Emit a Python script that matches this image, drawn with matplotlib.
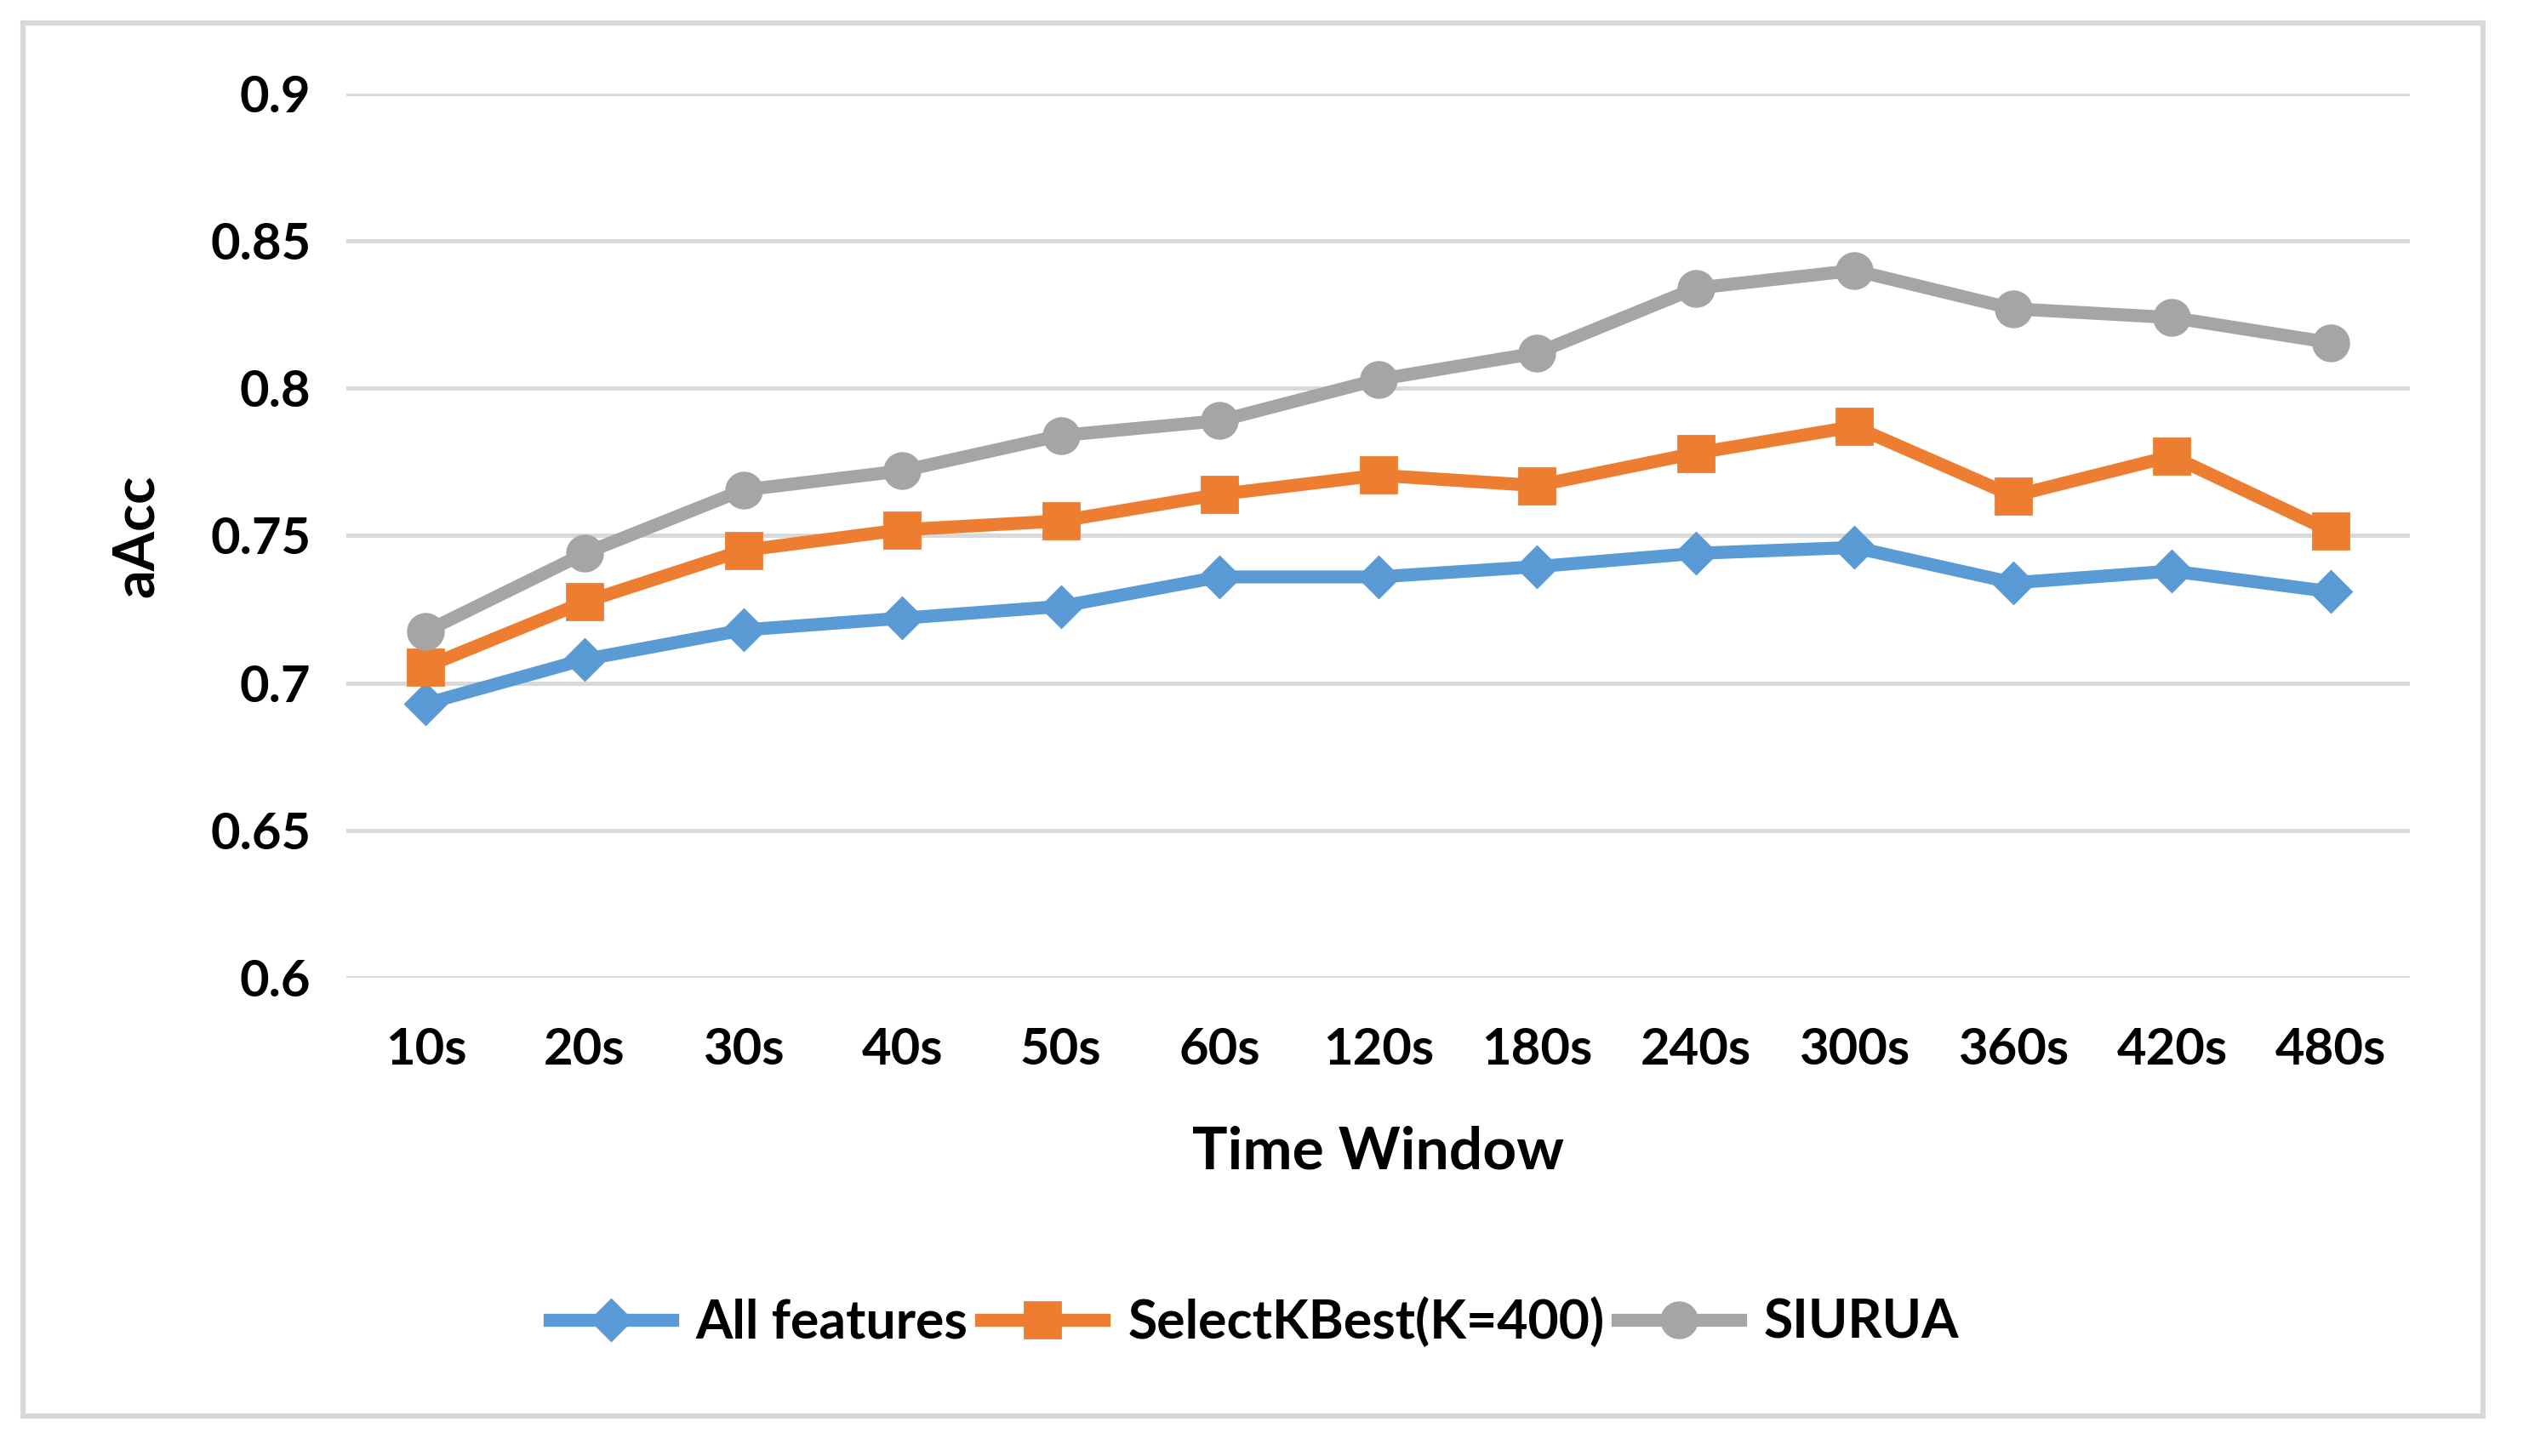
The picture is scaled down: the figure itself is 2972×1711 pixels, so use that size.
import matplotlib.pyplot as plt
from matplotlib.patches import Rectangle

windows = ["10s", "20s", "30s", "40s", "50s", "60s", "120s", "180s", "240s", "300s", "360s", "420s", "480s"]
all_features = [0.693, 0.708, 0.718, 0.722, 0.726, 0.736, 0.736, 0.7395, 0.744, 0.746, 0.734, 0.738, 0.731]
select_kbest = [0.7055, 0.7275, 0.745, 0.752, 0.755, 0.764, 0.7705, 0.767, 0.778, 0.787, 0.7635, 0.777, 0.7515]
siurua = [0.7175, 0.744, 0.7655, 0.772, 0.784, 0.789, 0.803, 0.812, 0.834, 0.840, 0.827, 0.824, 0.8155]
y_ticks = [0.6, 0.65, 0.7, 0.75, 0.8, 0.85, 0.9]
y_ticklabels = ["0.6", "0.65", "0.7", "0.75", "0.8", "0.85", "0.9"]

plt.rcParams['font.family'] = ['Lato', 'DejaVu Sans']
plt.rcParams['font.weight'] = 'bold'

fig = plt.figure(figsize=(14.86, 8.555), dpi=200)
ax = fig.add_axes([0.137, 0.3285, 0.816, 0.6072])

# outer chart border
fig.patches.append(Rectangle((27 / 2972, 1 - 1664 / 1711), (2918 - 27) / 2972, (1664 - 27) / 1711,
                             transform=fig.transFigure, fill=False, edgecolor='#D9D9D9', linewidth=2.2))

x = list(range(len(windows)))
ax.plot(x, all_features, color='#5B9BD5', marker='D', markersize=12, linewidth=5.5, label='All features')
ax.plot(x, select_kbest, color='#ED7D31', marker='s', markersize=15, linewidth=5.5, label='SelectKBest(K=400)')
ax.plot(x, siurua, color='#A5A5A5', marker='o', markersize=15, linewidth=5.5, label='SIURUA')

ax.set_xlim(-0.5, len(windows) - 0.5)
ax.set_ylim(0.6, 0.9)
ax.set_yticks(y_ticks)
ax.set_yticklabels(y_ticklabels)
ax.set_xticks(x)
ax.set_xticklabels(windows)
ax.tick_params(axis='both', length=0, labelsize=21.5)
ax.tick_params(axis='y', pad=15)
ax.tick_params(axis='x', pad=21)
ax.grid(axis='y', color='#D9D9D9', linewidth=1.8)
ax.set_axisbelow(True)
for s in ax.spines.values():
    s.set_visible(False)

ax.set_xlabel('Time Window', fontsize=25, fontweight='bold', labelpad=22)
ax.set_ylabel('aAcc', fontsize=24, fontweight='bold', labelpad=20)

fig.legend(loc='center', bbox_to_anchor=(0.496, 1 - 1554 / 1711), ncol=3, frameon=False,
           fontsize=22.5, handlelength=2.3, handletextpad=0.45, columnspacing=0.25)

fig.savefig('out.png', dpi=200)
